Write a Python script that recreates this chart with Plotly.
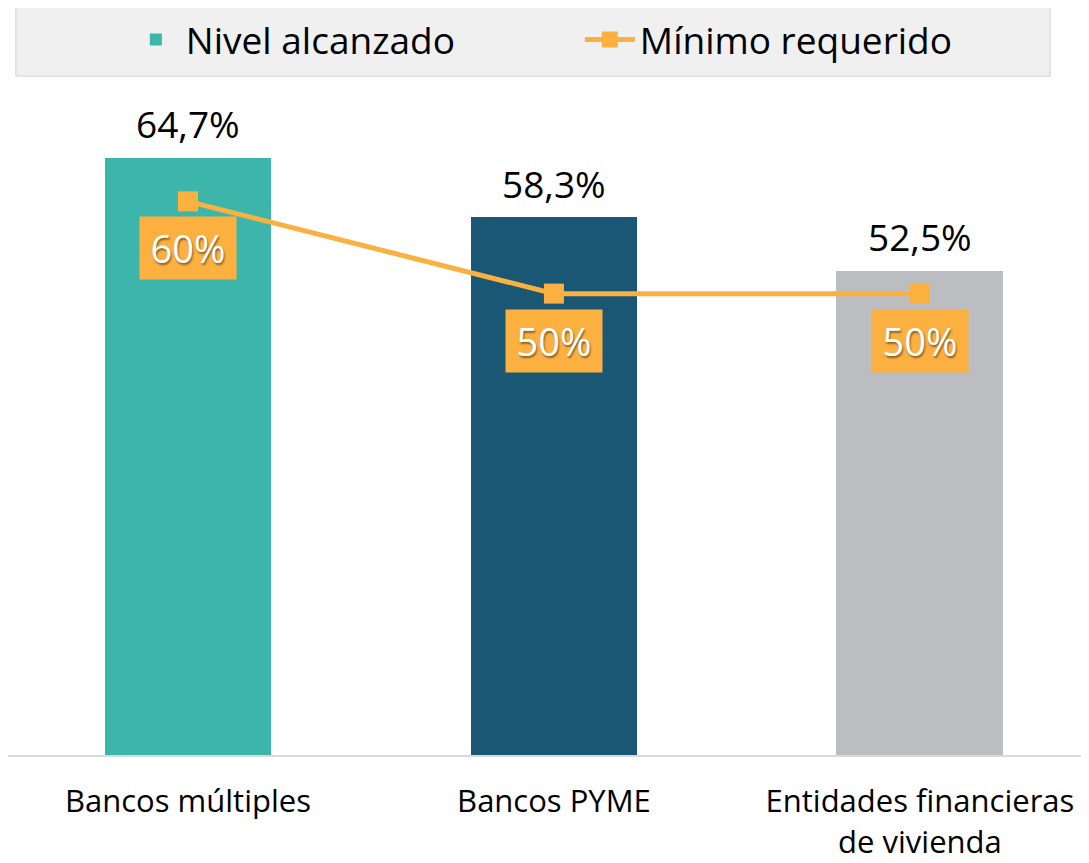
import plotly.graph_objects as go

categories = ["Bancos múltiples", "Bancos PYME", "Entidades financieras<br>de vivienda"]
nivel_alcanzado = [64.7, 58.3, 52.5]
minimo_requerido = [60, 50, 50]
nivel_labels = ["64,7%", "58,3%", "52,5%"]
minimo_labels = ["60%", "50%", "50%"]
bar_colors = ["#3cb6ab", "#1a5775", "#bcbdc0"]

ORANGE = "#fbb040"
FONT = "Open Sans"

fig = go.Figure()
fig.add_trace(go.Bar(
    x=categories, y=nivel_alcanzado, name="Nivel alcanzado",
    marker=dict(color=bar_colors, line=dict(width=0)), width=0.456,
))
fig.add_trace(go.Scatter(
    x=categories, y=minimo_requerido, name="Mínimo requerido",
    mode="lines+markers",
    line=dict(color=ORANGE, width=5),
    marker=dict(symbol="square", size=20, color=ORANGE),
))

annotations = []
for c, v, t in zip(categories, nivel_alcanzado, nivel_labels):
    annotations.append(dict(x=c, y=v, text=t, showarrow=False, yanchor="middle",
                            yshift=34, font=dict(size=37, color="#000000", family=FONT)))
for c, v, t in zip(categories, minimo_requerido, minimo_labels):
    annotations.append(dict(x=c, y=v, text=t, showarrow=False, yanchor="middle",
                            yshift=-47, width=94, height=60, bgcolor=ORANGE,
                            font=dict(size=38, color="#ffffff", family=FONT,
                                      shadow="1px 2px 2px rgba(0,0,0,0.45)")))

fig.update_layout(
    width=1081, height=855,
    margin=dict(l=0, r=0, t=83, b=108, autoexpand=False),
    paper_bgcolor="#ffffff", plot_bgcolor="#ffffff",
    font=dict(family=FONT, color="#000000"),
    bargap=0,
    showlegend=True,
    legend=dict(orientation="h", x=0.529, xanchor="center", y=1.077, yanchor="middle",
                bgcolor="rgba(0,0,0,0)", font=dict(size=37, family=FONT),
                entrywidth=389, itemwidth=50),
    shapes=[dict(type="rect", xref="paper", yref="paper", x0=0.0074, x1=0.9639,
                 y0=1.0226, y1=1.128, fillcolor="#f0f0f0",
                 line=dict(color="#e4e4e4", width=2), layer="below")],
    annotations=annotations,
    xaxis=dict(range=[-0.4918, 2.462], showgrid=False, showline=True, linecolor="#d9d9d9",
               linewidth=2, ticks="outside", ticklen=18, tickcolor="rgba(0,0,0,0)",
               automargin=False,
               tickfont=dict(size=31, family=FONT, color="#000000"), fixedrange=True),
    yaxis=dict(range=[0, 71.96], visible=False, showgrid=False, zeroline=False,
               automargin=False),
)

fig.write_html("out.html")
